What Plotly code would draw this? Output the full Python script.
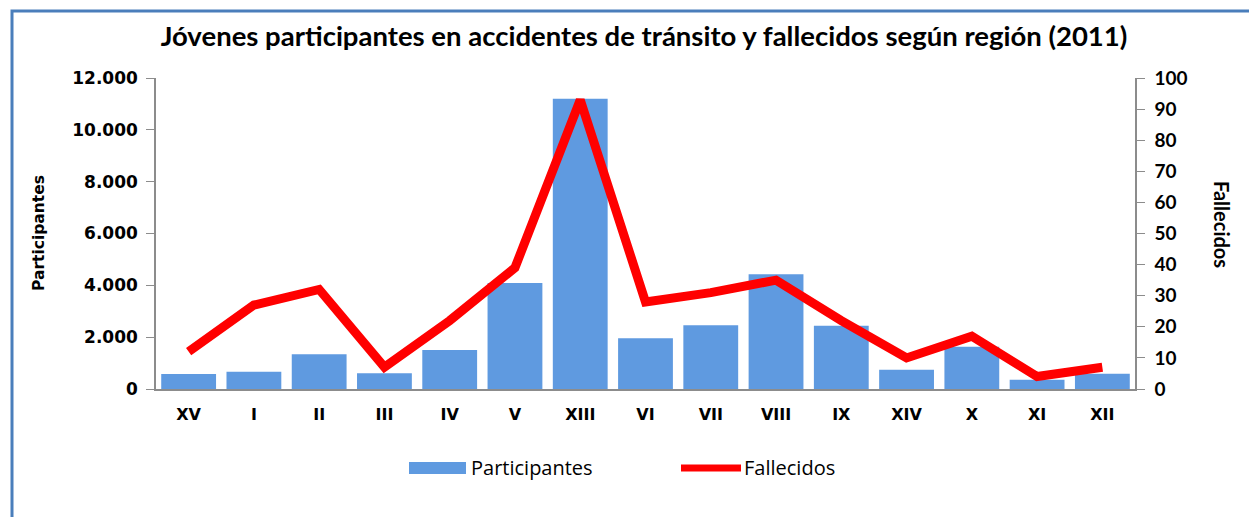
import plotly.graph_objects as go

regiones = ["XV", "I", "II", "III", "IV", "V", "XIII", "VI", "VII", "VIII", "IX", "XIV", "X", "XI", "XII"]
participantes = [575, 665, 1340, 605, 1505, 4090, 11200, 1960, 2460, 4430, 2445, 740, 1635, 355, 590]
fallecidos = [12, 27, 32, 7, 22, 39, 93, 28, 31, 35, 22, 10, 17, 4, 7]

W, H = 1249, 517
L, R, T, B = 156, 114, 78, 128
pw, ph = W - L - R, H - T - B

BAR_COLOR = "#5F9AE0"
LINE_COLOR = "#FF0000"
BOLD_SANS = "DejaVu Sans, Verdana, sans-serif"
CAL = "Lato, Carlito, sans-serif"
LEG = "Open Sans, Lato, sans-serif"


def px(x):
    return (x - L) / pw


def py(y):
    return (H - B - y) / ph


fig = go.Figure()
fig.add_trace(go.Bar(
    x=regiones, y=participantes, name="Participantes",
    marker=dict(color=BAR_COLOR, line=dict(width=0)),
    yaxis="y", showlegend=False,
))
fig.add_trace(go.Scatter(
    x=regiones, y=fallecidos, name="Fallecidos", mode="lines",
    line=dict(color=LINE_COLOR, width=9), yaxis="y2", showlegend=False,
))

fig.update_layout(
    width=W, height=H,
    margin=dict(l=L, r=R, t=T, b=B, autoexpand=False),
    paper_bgcolor="white", plot_bgcolor="white",
    separators=",.",
    bargap=0.16,
    title=dict(
        text="<b>Jóvenes participantes en accidentes de tránsito y fallecidos según región (2011)</b>",
        x=644 / W, xanchor="center", y=1 - 36 / H, yanchor="middle",
        font=dict(family=CAL, size=27.5, color="black"),
    ),
    xaxis=dict(
        showline=True, linecolor="#8c8c8c", linewidth=1.5,
        ticks="outside", ticklen=10, tickcolor="rgba(0,0,0,0)",
        tickfont=dict(family=BOLD_SANS, size=16, color="black", weight="bold"),
        showgrid=False,
    ),
    yaxis=dict(
        range=[0, 12000], dtick=2000, tickformat=",d",
        showline=True, linecolor="#8c8c8c", linewidth=1.5,
        ticks="outside", ticklen=8, tickcolor="#8c8c8c",
        showgrid=False, zeroline=False, ticklabelstandoff=5,
        tickfont=dict(family=BOLD_SANS, size=17, color="black", weight="bold"),
    ),
    yaxis2=dict(
        range=[0, 100], dtick=10, overlaying="y", side="right",
        showline=True, linecolor="#8c8c8c", linewidth=1.5,
        ticks="outside", ticklen=8, tickcolor="#8c8c8c",
        showgrid=False, zeroline=False, ticklabelstandoff=6,
        tickfont=dict(family=CAL, size=19, color="black", weight="bold"),
    ),
    showlegend=False,
)

# axis titles
fig.add_annotation(
    text="<b>Participantes</b>", textangle=-90,
    xref="paper", yref="paper", x=px(39), y=py(233),
    xanchor="center", yanchor="middle", showarrow=False,
    font=dict(family=BOLD_SANS, size=15.5, color="black"),
)
fig.add_annotation(
    text="<b>Fallecidos</b>", textangle=90,
    xref="paper", yref="paper", x=px(1222), y=py(224),
    xanchor="center", yanchor="middle", showarrow=False,
    font=dict(family=CAL, size=20, color="black"),
)

# legend (drawn manually to match the wide swatches)
fig.add_shape(
    type="rect", xref="paper", yref="paper",
    x0=px(409), x1=px(466), y0=py(474), y1=py(462),
    line=dict(width=0), fillcolor=BAR_COLOR,
)
fig.add_annotation(
    text="Participantes", xref="paper", yref="paper", x=px(469), y=py(467),
    xanchor="left", yanchor="middle", showarrow=False,
    font=dict(family=LEG, size=20, color="black"),
)
fig.add_shape(
    type="line", xref="paper", yref="paper",
    x0=px(681), x1=px(741), y0=py(468), y1=py(468),
    line=dict(color=LINE_COLOR, width=7),
)
fig.add_annotation(
    text="Fallecidos", xref="paper", yref="paper", x=px(742), y=py(467),
    xanchor="left", yanchor="middle", showarrow=False,
    font=dict(family=LEG, size=20, color="black"),
)

# outer frame
fig.add_shape(
    type="rect", xref="paper", yref="paper",
    x0=px(12), x1=px(1400), y0=py(11), y1=py(700),
    line=dict(color="#4A7EBB", width=3), fillcolor="rgba(0,0,0,0)", layer="below",
)

fig.write_html(
    "out.html",
    config={"displayModeBar": False},
    post_script="document.body.style.margin='0';document.body.style.overflow='hidden';",
)
